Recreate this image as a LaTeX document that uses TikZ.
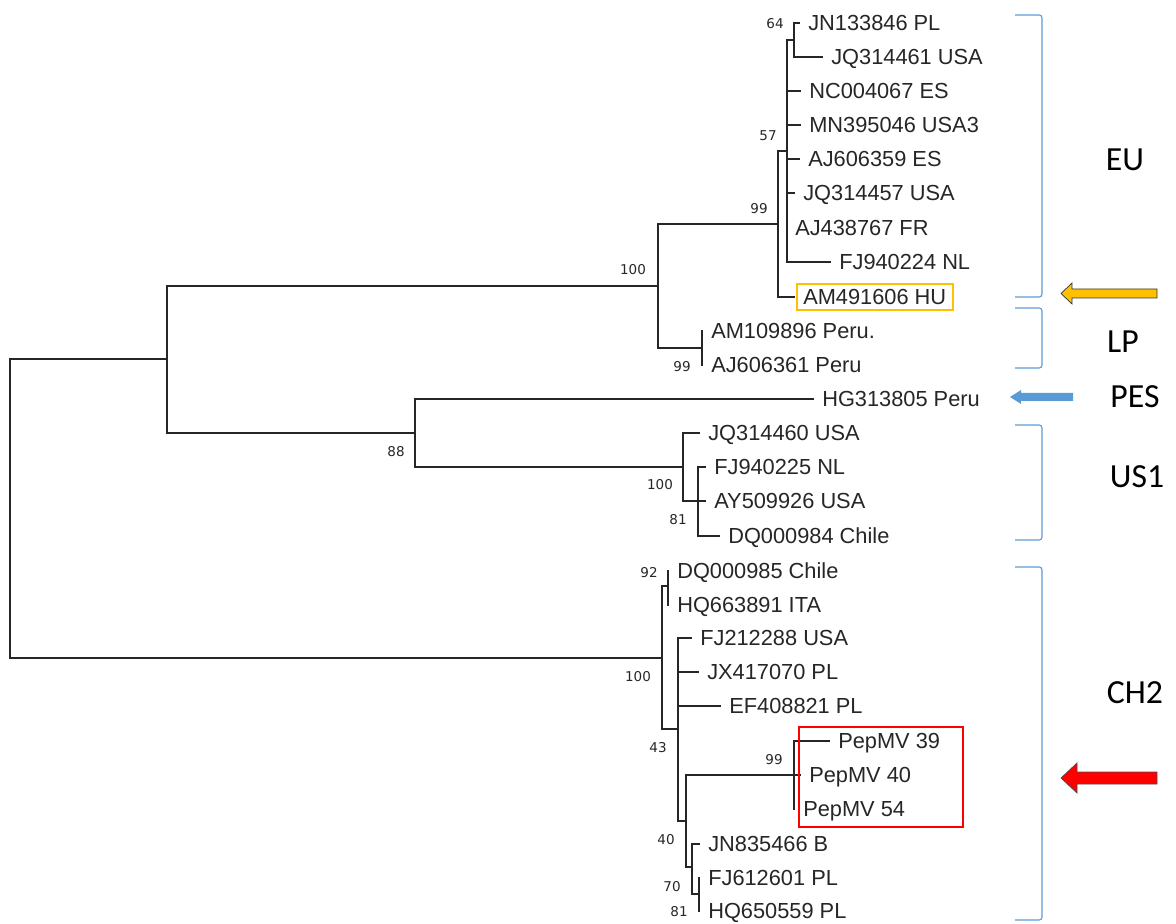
\documentclass[tikz,border=0pt]{standalone}
\usepackage{fontspec}
\setmainfont{Liberation Sans}
\newfontfamily\bootfont{DejaVu Sans}
\newfontfamily\cladefont{Carlito}
\usepackage{tikz}
\usetikzlibrary{positioning}
\definecolor{treeInk}{HTML}{262626}
\definecolor{cladeBlue}{HTML}{5B9BD5}
\definecolor{huGold}{HTML}{FFC000}
\definecolor{pepRed}{HTML}{FF0000}

\begin{document}
\begin{tikzpicture}[
        x=0.025cm, y=-0.025cm,
        leaf/.style={
          anchor=west, inner xsep=0.2cm, inner ysep=0pt,
          text height=11.1pt, text depth=0pt,
          font=\fontsize{15.5}{18}\selectfont, text=treeInk
        },
        boot/.style={
          inner sep=0pt, text=treeInk,
          font=\bootfont\fontsize{9.6}{11}\selectfont
        },
        clade/.style={
          inner sep=0pt, text=black,
          font=\cladefont\fontsize{24}{28}\selectfont
        },
        branch/.style={draw=treeInk, line width=0.9pt},
        bracket/.style={draw=cladeBlue, line width=0.8pt, rounded corners=2pt},
        flagGold/.style={fill=huGold, draw=black!80, line width=0.5pt},
        flagRed/.style={fill=pepRed, draw=black!70, line width=0.5pt},
        flagBlue/.style={fill=cladeBlue}
      ]
      \useasboundingbox (0,0) rectangle (1176,924);

      % Hojas: EU
      \node[leaf] (JN133846) at (800,23)  {JN133846 PL};
      \node[leaf] (JQ314461) at (823,57)  {JQ314461 USA};
      \node[leaf] (NC004067) at (801,91)  {NC004067 ES};
      \node[leaf] (MN395046) at (801,125) {MN395046 USA3};
      \node[leaf] (AJ606359) at (800,159) {AJ606359 ES};
      \node[leaf] (JQ314457) at (795,193) {JQ314457 USA};
      \node[leaf] (AJ438767) at (787,228) {AJ438767 FR};
      \node[leaf] (FJ940224) at (831,262) {FJ940224 NL};
      \node[leaf] (AM491606) at (795,297) {AM491606 HU};

      % Hojas: LP y PES
      \node[leaf] (AM109896) at (703,331) {AM109896 Peru.};
      \node[leaf] (AJ606361) at (703,365) {AJ606361 Peru};
      \node[leaf] (HG313805) at (814,399) {HG313805 Peru};

      % Hojas: US1
      \node[leaf] (JQ314460) at (700,433) {JQ314460 USA};
      \node[leaf] (FJ940225) at (706,467) {FJ940225 NL};
      \node[leaf] (AY509926) at (706,501) {AY509926 USA};
      \node[leaf] (DQ000984) at (720,536) {DQ000984 Chile};

      % Hojas: CH2
      \node[leaf] (DQ000985) at (669,571) {DQ000985 Chile};
      \node[leaf] (HQ663891) at (669,605) {HQ663891 ITA};
      \node[leaf] (FJ212288) at (692,638) {FJ212288 USA};
      \node[leaf] (JX417070) at (699,672) {JX417070 PL};
      \node[leaf] (EF408821) at (721,706) {EF408821 PL};
      \node[leaf] (pep39)    at (830,741) {PepMV 39};
      \node[leaf] (pep40)    at (801,775) {PepMV 40};
      \node[leaf] (pep54)    at (795,809) {PepMV 54};
      \node[leaf] (JN835466) at (700,844) {JN835466 B};
      \node[leaf] (FJ612601) at (700,878) {FJ612601 PL};
      \node[leaf] (HQ650559) at (700,911) {HQ650559 PL};

      % Nodos internos
      \coordinate (root) at (10,508);
      \coordinate (nA)   at (167,359);
      \coordinate (nB)   at (658,286);
      \coordinate (n99a) at (778,224);
      \coordinate (n57)  at (787,151);
      \coordinate (n64)  at (794,40);
      \coordinate (nLP)  at (702,348);
      \coordinate (n88)  at (415,433);
      \coordinate (nUS)  at (683,467);
      \coordinate (n81a) at (698,501);
      \coordinate (nCH)  at (662,658);
      \coordinate (n92)  at (668,586);
      \coordinate (n43)  at (678,729);
      \coordinate (n40)  at (686,821);
      \coordinate (n99b) at (794,775);
      \coordinate (n70)  at (692,867);
      \coordinate (n81b) at (699,894);

      % Ramas
      \draw[branch] (root) |- (nA) (root) |- (nCH);
      \draw[branch] (nA) |- (nB) (nA) |- (n88);
      \draw[branch] (nB) |- (n99a) (nB) |- (nLP);
      \draw[branch] (n99a) |- (n57) (n99a) |- (AM491606.west);
      \draw[branch] (n57) |- (n64) (n57) |- (NC004067.west) (n57) |- (MN395046.west)
                    (n57) |- (AJ606359.west) (n57) |- (JQ314457.west)
                    (n57) |- (AJ438767.west) (n57) |- (FJ940224.west);
      \draw[branch] (n64) |- (JN133846.west) (n64) |- (JQ314461.west);
      \draw[branch] (nLP) |- (AM109896.west) (nLP) |- (AJ606361.west);
      \draw[branch] (n88) |- (HG313805.west) (n88) |- (nUS);
      \draw[branch] (nUS) |- (JQ314460.west) (nUS) |- (n81a);
      \draw[branch] (n81a) |- (FJ940225.west) (n81a) |- (AY509926.west) (n81a) |- (DQ000984.west);
      \draw[branch] (nCH) |- (n92) (nCH) |- (n43);
      \draw[branch] (n92) |- (DQ000985.west) (n92) |- (HQ663891.west);
      \draw[branch] (n43) |- (FJ212288.west) (n43) |- (JX417070.west)
                    (n43) |- (EF408821.west) (n43) |- (n40);
      \draw[branch] (n40) |- (n99b) (n40) |- (n70);
      \draw[branch] (n99b) |- (pep39.west) (n99b) |- (pep40.west) (n99b) |- (pep54.west);
      \draw[branch] (n70) |- (JN835466.west) (n70) |- (n81b);
      \draw[branch] (n81b) |- (FJ612601.west) (n81b) |- (HQ650559.west);

      % Bootstrap
      \node[boot] (b64)   at (775,24)  {64};
      \node[boot] (b57)   at (768,136) {57};
      \node[boot] (b99a)  at (759,209) {99};
      \node[boot] (b100a) at (633,270) {100};
      \node[boot] (b99lp) at (682,367) {99};
      \node[boot] (b88)   at (396,452) {88};
      \node[boot] (b100u) at (660,485) {100};
      \node[boot] (b81a)  at (678,520) {81};
      \node[boot] (b92)   at (649,573) {92};
      \node[boot] (b100c) at (638,677) {100};
      \node[boot] (b43)   at (658,748) {43};
      \node[boot] (b99b)  at (774,760) {99};
      \node[boot] (b40)   at (666,840) {40};
      \node[boot] (b70)   at (672,887) {70};
      \node[boot] (b81b)  at (679,912) {81};

      % Recuadros
      \draw[huGold, line width=0.8pt] (797,284) rectangle (953,310);
      \draw[pepRed, line width=0.8pt] (799,727) rectangle (963,827);

      % Clados
      \draw[bracket] (1015,15) -- (1042,15) -- (1042,297) -- (1015,297);
      \draw[bracket] (1015,308) -- (1042,308) -- (1042,368) -- (1015,368);
      \draw[bracket] (1015,425) -- (1042,425) -- (1042,540) -- (1015,540);
      \draw[bracket] (1015,567) -- (1042,567) -- (1042,920) -- (1015,920);
      \node[clade] (cEU)  at (1125,160) {EU};
      \node[clade] (cLP)  at (1123,342) {LP};
      \node[clade] (cPES) at (1135,397) {PES};
      \node[clade] (cUS1) at (1137,477) {US1};
      \node[clade] (cCH2) at (1135,693) {CH2};

      % Flechas
      \draw[flagGold] (1061,293.5) -- (1072,283) -- (1072,289) -- (1157,289)
                      -- (1157,298) -- (1072,298) -- (1072,304) -- cycle;
      \fill[flagBlue] (1010,397) -- (1021,390) -- (1021,393) -- (1073,393)
                      -- (1073,401) -- (1021,401) -- (1021,404) -- cycle;
      \draw[flagRed]  (1061,778) -- (1077,763) -- (1077,772) -- (1157,772)
                      -- (1157,784) -- (1077,784) -- (1077,793) -- cycle;

    \end{tikzpicture}
\end{document}
